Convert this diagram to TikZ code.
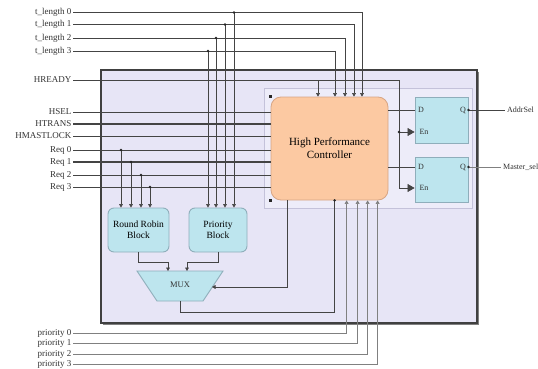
\documentclass[tikz,border=0pt]{standalone}
\usepackage{fontspec}
\setmainfont{Liberation Serif}
\usetikzlibrary{arrows.meta,calc}
\definecolor{lav}{HTML}{E7E5F6}
\definecolor{innerf}{HTML}{EDECF9}
\definecolor{innerb}{HTML}{C4C2DA}
\definecolor{peach}{HTML}{FCC9A2}
\definecolor{peachb}{HTML}{D7A585}
\definecolor{cyanf}{HTML}{BDE5EE}
\definecolor{cyanb}{HTML}{8FAEBB}
\definecolor{wirec}{HTML}{444444}
\tikzset{
  lbl/.style={font=\fontsize{9}{10}\selectfont, text=black!80, inner sep=1.5pt},
  wire/.style={draw=wirec, line width=0.6pt},
  lwire/.style={draw=black!50, line width=0.6pt},
  bus/.style={draw=wirec, line width=1.3pt},
  arr/.style={-{Triangle[length=3.5pt,width=3.8pt]}},
  bigarr/.style={-{Triangle[length=7pt,width=8pt]}},
  jdot/.style={circle, fill=black!85, inner sep=0pt, minimum size=2.8pt},
  ctlbox/.style={draw=peachb, fill=peach, rounded corners=10pt, line width=0.8pt,
    minimum width=117, minimum height=103, align=center, font=\fontsize{11}{13}\selectfont},
  blk/.style={draw=cyanb, fill=cyanf, rounded corners=6pt, line width=0.9pt,
    minimum width=61, minimum height=44, align=center, font=\fontsize{9.5}{11}\selectfont},
  ffbox/.style={draw=cyanb, fill=cyanf, line width=0.9pt, minimum width=53, minimum height=46},
  ffl/.style={font=\fontsize{8}{9}\selectfont, inner sep=0pt, text=black!80},
}
\begin{document}
\begin{tikzpicture}[x=1pt,y=-1pt]
\useasboundingbox (0,0) rectangle (538,369);
\fill[white] (0,0) rectangle (538,369);
% outer and inner boxes
\draw[fill=lav, draw=black!75, line width=1.3pt] (101,70) rectangle (477,323);
\draw[black!50, line width=1pt] (478.8,72) -- (478.8,324.8) -- (103,324.8);
\draw[fill=innerf, draw=innerb, line width=0.6pt] (264,88) rectangle (472,208);

% blocks
\node[ctlbox] (ctl) at (329.5,148.5) {High Performance\\Controller};
\node[blk] (rr) at (138.5,230) {Round Robin\\Block};
\node[blk, minimum width=58] (pri) at (218,230) {Priority\\Block};
\node[ffbox] (ff1) at (441.5,120) {};
\node[ffbox, minimum height=45] (ff2) at (441.5,179.5) {};
\node[ffl] (ff1d) at (421,110) {D};
\node[ffl] (ff1q) at (463,110) {Q};
\node[ffl] (ff1en) at (424,132) {En};
\node[ffl] (ff2d) at (421,167) {D};
\node[ffl] (ff2q) at (463,167) {Q};
\node[ffl] (ff2en) at (424,188) {En};

% MUX
\draw[draw=cyanb, fill=cyanf, line width=0.9pt] (137,271) -- (223,271) -- (203,301) -- (157,301) -- cycle;
\node[font=\fontsize{8.5}{9}\selectfont, text=black!80] (mux) at (180,285) {MUX};
\coordinate (m1) at (168,271);
\coordinate (m2) at (187,271);
\coordinate (msel) at (212,287);
\coordinate (mout) at (180,301);

% left labels
\node[lbl, anchor=east] (tl0) at (73,12.5) {t\_length 0};
\node[lbl, anchor=east] (tl1) at (73,24.5) {t\_length 1};
\node[lbl, anchor=east] (tl2) at (73,38) {t\_length 2};
\node[lbl, anchor=east] (tl3) at (73,51) {t\_length 3};
\node[lbl, anchor=east] (hready) at (73,80) {HREADY};
\node[lbl, anchor=east] (hsel) at (73,112) {HSEL};
\node[lbl, anchor=east] (htrans) at (73,124) {HTRANS};
\node[lbl, anchor=east] (hlock) at (73,136) {HMASTLOCK};
\node[lbl, anchor=east] (req0) at (73,150) {Req 0};
\node[lbl, anchor=east] (req1) at (73,162) {Req 1};
\node[lbl, anchor=east] (req2) at (73,175) {Req 2};
\node[lbl, anchor=east] (req3) at (73,187) {Req 3};
\node[lbl, anchor=east] (pr0) at (73,333) {priority 0};
\node[lbl, anchor=east] (pr1) at (73,343.5) {priority 1};
\node[lbl, anchor=east] (pr2) at (73,354) {priority 2};
\node[lbl, anchor=east] (pr3) at (73,364) {priority 3};

% t_length wires
\coordinate (t0b) at (362,12.5);
\coordinate (t1b) at (354,24.5);
\coordinate (t2b) at (345,38);
\coordinate (t3b) at (335,51);
\coordinate (j0) at (234,12.5);
\coordinate (j1) at (225,24.5);
\coordinate (j2) at (216,38);
\coordinate (j3) at (208,51);
\draw[wire] (tl0.east) -- (t0b);
\draw[wire] (tl1.east) -- (t1b);
\draw[wire] (tl2.east) -- (t2b);
\draw[wire] (tl3.east) -- (t3b);
\draw[wire,arr] (t0b) -- (t0b |- ctl.north);
\draw[wire,arr] (t1b) -- (t1b |- ctl.north);
\draw[wire,arr] (t2b) -- (t2b |- ctl.north);
\draw[wire,arr] (t3b) -- (t3b |- ctl.north);
\foreach \j in {j0,j1,j2,j3} {
  \draw[wire,arr] (\j) -- (\j |- pri.north);
  \node[jdot] at (\j) {};
}

% HREADY
\coordinate (hb) at (318,80);
\coordinate (hr) at (399,80);
\coordinate (en1) at (399,132);
\coordinate (en2) at (399,188);
\draw[wire] (hready.east) -- (hr) -- (en2);
\draw[wire,arr] (hb) -- (hb |- ctl.north);
\draw[wire,bigarr] (en1) -- (en1 -| ff1.west);
\draw[wire,bigarr] (en2) -- (en2 -| ff2.west);
\node[jdot] at (en1) {};

% left control inputs
\draw[wire] (hsel.east) -- (hsel.east -| ctl.west);
\draw[bus] (htrans.east) -- (htrans.east -| ctl.west);
\draw[wire] (hlock.east) -- (hlock.east -| ctl.west);
\draw[wire] (req0.east) -- (req0.east -| ctl.west);
\draw[bus] (req1.east) -- (req1.east -| ctl.west);
\draw[wire] (req2.east) -- (req2.east -| ctl.west);
\draw[wire] (req3.east) -- (req3.east -| ctl.west);
\node[jdot, rectangle, minimum size=3pt] at (ctl.north west) {};
\node[jdot, rectangle, minimum size=3pt] at (ctl.south west) {};

% Req to round robin
\coordinate (r0) at (121,150);
\coordinate (r1) at (131,162);
\coordinate (r2) at (141,175);
\coordinate (r3) at (150,187);
\foreach \r in {r0,r1,r2,r3} {
  \draw[wire,arr] (\r) -- (\r |- rr.north);
  \node[jdot] at (\r) {};
}

% blocks to MUX
\draw[wire,arr] (rr.south) -- ++(0,10) -| (m1);
\draw[wire,arr] (pri.south) -- ++(0,10) -| (m2);

% controller to MUX select
\coordinate (cs) at ($(ctl.south west)+(17,0)$);
\draw[wire,arr] (cs) |- (msel);

% MUX output to controller
\coordinate (cm) at ($(ctl.south west)+(64,0)$);
\draw[wire] (mout) -- ++(0,11) -| (cm);
\node[jdot] at (cm) {};

% priority inputs
\draw[lwire,arr] (pr0.east) -| ($(ctl.south west)+(76,0)$);
\draw[lwire,arr] (pr1.east) -| ($(ctl.south west)+(87,0)$);
\draw[lwire,arr] (pr2.east) -| ($(ctl.south west)+(97,0)$);
\draw[lwire,arr] (pr3.east) -| ($(ctl.south west)+(107,0)$);

% D inputs
\coordinate (d1) at ($(ff1.west)+(0,-10)$);
\coordinate (d2) at ($(ff2.west)+(0,-12.5)$);
\draw[wire] (d1 -| ctl.east) -- (d1);
\draw[wire] (d2 -| ctl.east) -- (d2);

% Q outputs
\coordinate (q1) at ($(ff1.east)+(0,-10)$);
\coordinate (q2) at ($(ff2.east)+(0,-12.5)$);
\node[lbl, anchor=west, font=\fontsize{8}{9}\selectfont] (addr) at ($(q1)+(37,0)$) {AddrSel};
\node[lbl, anchor=west, font=\fontsize{8}{9}\selectfont] (msl) at ($(q2)+(33,0)$) {Master\_sel};
\draw[wire] (q1) -- (addr.west);
\draw[lwire] (q2) -- (msl.west);
\node[jdot] at (q1) {};
\node[jdot] at (q2) {};
\end{tikzpicture}
\end{document}
